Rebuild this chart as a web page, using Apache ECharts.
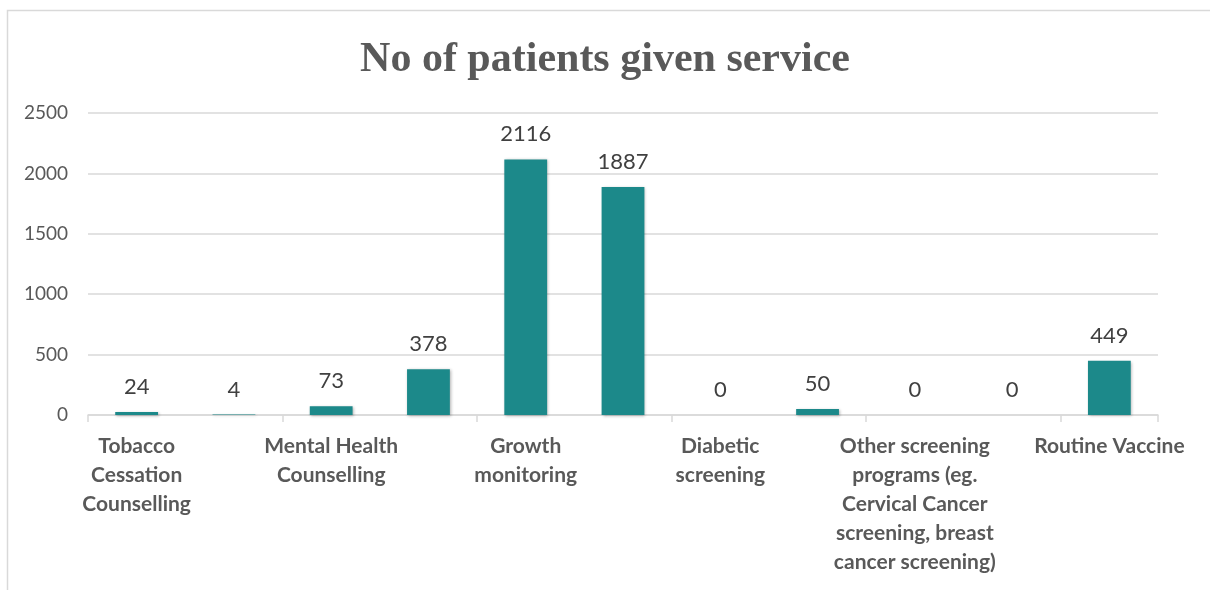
<!DOCTYPE html>
<html>
<head>
<meta charset="utf-8">
<script src="https://cdn.jsdelivr.net/npm/echarts@6/dist/echarts.min.js"></script>
<style>
  html, body { margin: 0; padding: 0; background: #fff; }
  #chart { width: 1210px; height: 590px; }
</style>
</head>
<body>
<div id="chart"></div>
<script>
// categories (Excel only printed every other label; the hidden ones stay blank)
const categories = [
  'Tobacco\nCessation\nCounselling',
  '',
  'Mental Health\nCounselling',
  '',
  'Growth\nmonitoring',
  '',
  'Diabetic\nscreening',
  '',
  'Other screening\nprograms (eg.\nCervical Cancer\nscreening, breast\ncancer screening)',
  '',
  'Routine Vaccine'
]
const patients = [24, 4, 73, 378, 2116, 1887, 0, 50, 0, 0, 449]
const yTicks = [0, 500, 1000, 1500, 2000, 2500]

const chart = echarts.init(document.getElementById('chart'), null, { renderer: 'canvas' })

chart.setOption({
  animation: false,
  backgroundColor: '#fff',
  graphic: [
    {
      type: 'rect',
      shape: { x: 7.5, y: 10.5, width: 1240, height: 620 },
      style: { fill: 'none', stroke: '#d9d9d9', lineWidth: 1.5 },
      silent: true
    }
  ],
  title: {
    text: 'No of patients given service',
    left: 'center',
    top: 34,
    textStyle: {
      fontFamily: '"Liberation Serif", "DejaVu Serif", serif',
      fontWeight: 'bold',
      fontSize: 42,
      color: '#595959'
    }
  },
  grid: {
    left: 88,
    right: 52,
    top: 113,
    bottom: 175
  },
  xAxis: {
    type: 'category',
    data: categories,
    axisLine: { lineStyle: { color: '#d9d9d9', width: 1.5 } },
    axisTick: { show: true, length: 7, lineStyle: { color: '#d9d9d9', width: 1.5 } },
    axisLabel: {
      interval: 1,
      margin: 17,
      color: '#595959',
      fontFamily: 'Lato, "Noto Sans", sans-serif',
      fontWeight: 'bold',
      fontSize: 21,
      lineHeight: 29,
      align: 'center'
    }
  },
  yAxis: {
    type: 'value',
    min: yTicks[0],
    max: yTicks[yTicks.length - 1],
    interval: yTicks[1] - yTicks[0],
    axisLine: { show: false },
    axisTick: { show: false },
    axisLabel: {
      margin: 20,
      color: '#595959',
      fontFamily: 'Lato, "Noto Sans", sans-serif',
      fontSize: 19,
      formatter: value => String(value)
    },
    splitLine: { lineStyle: { color: '#d9d9d9', width: 1.5 } }
  },
  series: [
    {
      name: 'No of patients',
      type: 'bar',
      data: patients,
      barWidth: '44%',
      itemStyle: {
        color: '#1c898a',
        shadowColor: 'rgba(0, 0, 0, 0.3)',
        shadowBlur: 3,
        shadowOffsetX: 1,
        shadowOffsetY: 1
      },
      label: {
        show: true,
        position: 'top',
        distance: 14,
        color: '#404040',
        fontFamily: 'Lato, "Noto Sans", sans-serif',
        fontSize: 22
      }
    }
  ]
})
</script>
</body>
</html>
